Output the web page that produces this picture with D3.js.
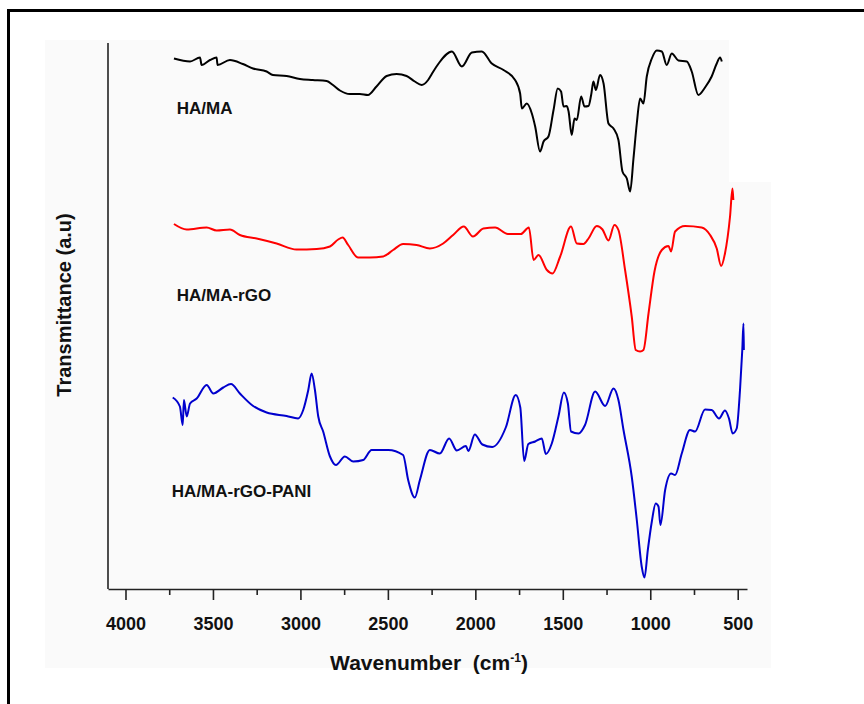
<!DOCTYPE html>
<html>
<head>
<meta charset="utf-8">
<script src="https://cdn.jsdelivr.net/npm/d3@7"></script>
<style>
  html, body { margin: 0; padding: 0; background: #fff; }
  svg { display: block; font-family: Arial, "Liberation Sans", sans-serif; }
</style>
</head>
<body>
<svg id="chart" width="864" height="704"></svg>
<script>
// x-axis ticks (cm-1)
const majorTicks = [4000, 3500, 3000, 2500, 2000, 1500, 1000, 500];
const minorTicks = [3750, 3250, 2750, 2250, 1750, 1250, 750];

// HA/MA (black)
const haMaWn = [3723, 3631, 3574, 3565, 3517, 3479, 3474, 3403, 3329, 3271, 3193, 3157, 3079, 3003, 2929, 2850, 2814, 2774, 2717, 2660, 2614, 2565, 2507, 2450, 2393, 2346, 2307, 2270, 2249, 2210, 2134, 2077, 2020, 1963, 1906, 1839, 1773, 1744, 1734, 1706, 1677, 1658, 1630, 1610, 1582, 1553, 1529, 1510, 1496, 1477, 1467, 1449, 1433, 1420, 1395, 1376, 1353, 1338, 1325, 1311, 1287, 1267, 1239, 1210, 1182, 1159, 1134, 1115, 1096, 1077, 1058, 1039, 1020, 991, 963, 934, 906, 877, 839, 791, 763, 725, 687, 649, 620, 601, 591];
const haMaT = [106.1, 105.5, 106.3, 104.8, 105.8, 106.3, 104.8, 105.8, 105.0, 104.1, 103.5, 102.8, 102.6, 102.0, 101.8, 101.6, 100.8, 99.7, 99.0, 99.0, 98.8, 100.5, 102.6, 103.0, 102.6, 101.5, 100.8, 101.8, 103.0, 105.1, 107.5, 104.5, 107.3, 107.5, 105.1, 103.8, 101.8, 99.1, 96.1, 97.1, 95.1, 92.5, 87.5, 89.5, 90.5, 95.8, 100.1, 99.5, 96.5, 96.6, 95.5, 90.8, 94.1, 93.8, 98.5, 96.5, 96.6, 98.8, 101.5, 99.8, 102.8, 101.1, 93.1, 92.1, 89.8, 83.5, 82.1, 79.5, 86.1, 93.1, 98.1, 97.1, 102.5, 106.1, 107.7, 107.5, 104.8, 107.1, 105.7, 105.5, 103.5, 98.8, 100.3, 102.5, 105.1, 106.3, 105.5];

// HA/MA-rGO (red)
const haMaRgoWn = [3723, 3650, 3536, 3479, 3403, 3346, 3250, 3136, 3022, 2907, 2831, 2784, 2759, 2727, 2670, 2603, 2527, 2470, 2413, 2336, 2260, 2184, 2127, 2066, 2014, 1954, 1887, 1814, 1740, 1694, 1667, 1639, 1591, 1559, 1515, 1453, 1420, 1382, 1353, 1306, 1273, 1239, 1205, 1182, 1144, 1106, 1083, 1058, 1039, 1010, 976, 934, 896, 881, 858, 801, 706, 658, 620, 595, 573, 544, 530, 525];
const haMaRgoT = [73.0, 71.9, 72.3, 71.7, 71.9, 70.8, 70.1, 69.1, 67.9, 68.0, 68.5, 69.9, 70.3, 68.8, 66.3, 66.3, 66.5, 67.8, 69.0, 68.8, 68.1, 69.1, 70.8, 72.5, 70.5, 72.1, 72.3, 71.0, 71.0, 72.3, 65.8, 66.8, 63.8, 63.1, 66.5, 72.5, 69.1, 69.0, 70.1, 72.6, 71.9, 69.7, 72.8, 71.8, 63.8, 54.5, 47.8, 47.5, 47.8, 55.1, 63.5, 67.8, 68.6, 67.5, 71.5, 72.6, 72.3, 70.8, 68.1, 64.6, 67.1, 74.5, 80.1, 77.8];

// HA/MA-rGO-PANI (blue)
const haMaRgoPaniWn = [3730, 3689, 3673, 3666, 3650, 3631, 3593, 3536, 3498, 3441, 3397, 3346, 3270, 3193, 3079, 3013, 2984, 2955, 2936, 2917, 2898, 2870, 2831, 2797, 2746, 2698, 2641, 2593, 2498, 2413, 2384, 2346, 2317, 2260, 2203, 2150, 2106, 2054, 2040, 2003, 1960, 1903, 1826, 1769, 1743, 1721, 1697, 1658, 1620, 1597, 1563, 1525, 1494, 1471, 1453, 1410, 1373, 1315, 1258, 1210, 1182, 1153, 1106, 1077, 1049, 1033, 1014, 991, 969, 953, 942, 915, 881, 858, 820, 773, 744, 687, 649, 607, 573, 550, 529, 506, 487, 474, 467, 465];
const haMaRgoPaniT = [38.3, 36.5, 32.8, 37.8, 34.5, 37.1, 38.1, 40.8, 39.1, 40.3, 41.0, 39.1, 36.6, 35.3, 34.6, 34.1, 35.8, 39.8, 43.1, 39.8, 34.5, 31.5, 26.5, 24.8, 26.5, 25.5, 25.8, 27.8, 27.8, 26.8, 21.8, 18.3, 21.8, 27.8, 27.1, 30.1, 27.7, 28.6, 27.6, 30.9, 28.9, 28.4, 32.3, 38.8, 36.3, 25.6, 29.0, 29.5, 30.1, 27.0, 29.1, 34.5, 39.3, 37.1, 31.5, 31.1, 32.8, 39.5, 36.6, 40.1, 37.8, 31.8, 22.5, 13.8, 4.5, 2.3, 7.8, 13.5, 17.1, 16.5, 12.8, 19.8, 23.1, 22.8, 27.1, 31.8, 31.5, 35.9, 35.8, 34.1, 35.7, 34.1, 31.1, 32.1, 39.8, 47.8, 53.1, 47.8];

const seriesNames = ['HA/MA', 'HA/MA-rGO', 'HA/MA-rGO-PANI'];
const seriesColors = ['#000000', '#ff0000', '#0000cd'];
// where each name sits, in data units
const labelPos = [[3707, 95.0], [3707, 57.7], [3735, 18.5]];

const series = [
  { wn: haMaWn, t: haMaT },
  { wn: haMaRgoWn, t: haMaRgoT },
  { wn: haMaRgoPaniWn, t: haMaRgoPaniT }
];

const svg = d3.select('#chart');

// faint grey backdrop from the scanned figure
svg.append('path')
  .attr('d', 'M45,40H729V182H771V668H45Z')
  .attr('fill', '#fafafa');

// frame (only top and left edges survive)
svg.append('line').attr('x1', 7).attr('x2', 864).attr('y1', 10.5).attr('y2', 10.5)
  .attr('stroke', '#000').attr('stroke-width', 3);
svg.append('line').attr('x1', 8.5).attr('x2', 8.5).attr('y1', 9).attr('y2', 704)
  .attr('stroke', '#000').attr('stroke-width', 3);

const x = d3.scaleLinear().domain([4100, 447]).range([108, 747]);
const y = d3.scaleLinear().domain([0, 109.2]).range([589, 43]);

const line = d3.line().x(d => x(d[0])).y(d => y(d[1])).curve(d3.curveMonotoneX);

series.forEach((s, i) => {
  const pts = s.wn.map((w, k) => [w, s.t[k]]);
  svg.append('path')
    .datum(pts)
    .attr('d', line)
    .attr('fill', 'none')
    .attr('stroke', seriesColors[i])
    .attr('stroke-width', 2)
    .attr('stroke-linejoin', 'round');
});

// axes
const xAxis = svg.append('g')
  .attr('transform', 'translate(0,589)')
  .call(d3.axisBottom(x).tickValues(majorTicks).tickFormat(d3.format('d'))
    .tickSize(11).tickPadding(17).tickSizeOuter(0));
xAxis.select('.domain').attr('stroke', '#222').attr('stroke-width', 1.6);
xAxis.selectAll('.tick line').attr('stroke', '#222').attr('stroke-width', 1.6);
xAxis.selectAll('.tick text')
  .attr('font-size', 18).attr('font-weight', 'bold').attr('fill', '#111');

const xMinor = svg.append('g')
  .attr('transform', 'translate(0,589)')
  .call(d3.axisBottom(x).tickValues(minorTicks).tickSize(6).tickFormat(''));
xMinor.select('.domain').remove();
xMinor.selectAll('.tick line').attr('stroke', '#222').attr('stroke-width', 1.6);

svg.append('line')
  .attr('x1', 108).attr('x2', 108).attr('y1', y(109.2)).attr('y2', 589)
  .attr('stroke', '#222').attr('stroke-width', 1.6);

// series names
seriesNames.forEach((n, i) => {
  svg.append('text')
    .attr('x', x(labelPos[i][0]))
    .attr('y', y(labelPos[i][1]))
    .attr('font-size', 17).attr('font-weight', 'bold').attr('fill', '#111')
    .text(n);
});

// axis titles
const xt = svg.append('text')
  .attr('x', 429).attr('y', 670)
  .attr('text-anchor', 'middle')
  .attr('font-size', 21).attr('font-weight', 'bold').attr('fill', '#111')
  .attr('xml:space', 'preserve');
xt.append('tspan').text('Wavenumber  (cm');
xt.append('tspan').attr('dy', -8).attr('font-size', 12).text('-1');
xt.append('tspan').attr('dy', 8).text(')');

svg.append('text')
  .attr('transform', 'translate(71,305) rotate(-90)')
  .attr('text-anchor', 'middle')
  .attr('font-size', 20).attr('font-weight', 'bold').attr('fill', '#111')
  .text('Transmittance (a.u)');
</script>
</body>
</html>
